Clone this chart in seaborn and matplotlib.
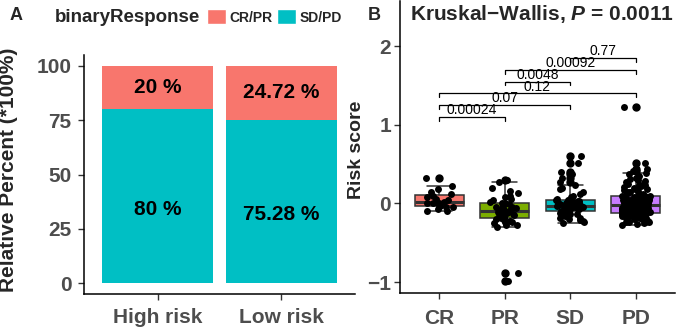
import numpy as np
import pandas as pd
import matplotlib

matplotlib.use("Agg")
import matplotlib.pyplot as plt
from matplotlib.patches import Patch
import seaborn as sns

sns.set_style("ticks")
plt.rcParams["font.family"] = ["Liberation Sans", "DejaVu Sans"]
plt.rcParams["mathtext.fontset"] = "custom"
plt.rcParams["mathtext.rm"] = "Liberation Sans:bold"
plt.rcParams["mathtext.it"] = "Liberation Sans:bold:italic"

# 左图: 高低风险组的应答比例
risk_groups = ["High risk", "Low risk"]
crpr_pct = [20, 24.72]
sdpd_pct = [80, 75.28]
crpr_labels = ["20 %", "24.72 %"]
sdpd_labels = ["80 %", "75.28 %"]

# 右图: 各应答组的风险评分
cr_score = [-0.10, -0.09, -0.07, -0.05, -0.04, -0.03, -0.02, 0.00, 0.01, 0.01,
            0.02, 0.04, 0.06, 0.08, 0.10, 0.12, 0.14, 0.18, 0.22, 0.33]
pr_score = [-0.98, -0.89, -0.30, -0.28, -0.27, -0.25, -0.24, -0.23, -0.22, -0.21,
            -0.20, -0.19, -0.18, -0.17, -0.16, -0.15, -0.14, -0.13, -0.12, -0.11,
            -0.10, -0.10, -0.09, -0.09, -0.08, -0.07, -0.06, -0.06, -0.05, -0.04,
            -0.03, -0.02, -0.01, 0.00, 0.01, 0.02, 0.04, 0.06, 0.08, 0.10,
            0.13, 0.16, 0.20, 0.27, 0.30]
sd_score = [-0.25, -0.24, -0.22, -0.21, -0.20, -0.19, -0.18, -0.16, -0.15, -0.14,
            -0.13, -0.12, -0.11, -0.10, -0.09, -0.09, -0.08, -0.08, -0.07, -0.07,
            -0.06, -0.06, -0.05, -0.05, -0.04, -0.04, -0.04, -0.03, -0.03, -0.03,
            -0.03, -0.02, -0.02, -0.01, -0.01, 0.00, 0.00, 0.01, 0.01, 0.02,
            0.02, 0.03, 0.03, 0.04, 0.04, 0.04, 0.06, 0.08, 0.10, 0.12,
            0.15, 0.18, 0.20, 0.23, 0.27, 0.33, 0.38, 0.40, 0.51, 0.60]
pd_score = [-0.27, -0.26, -0.25, -0.24, -0.24, -0.23, -0.22, -0.22, -0.21, -0.20,
            -0.20, -0.19, -0.19, -0.18, -0.18, -0.17, -0.17, -0.16, -0.16, -0.15,
            -0.15, -0.14, -0.14, -0.14, -0.13, -0.13, -0.13, -0.12, -0.12, -0.12,
            -0.12, -0.11, -0.11, -0.11, -0.10, -0.10, -0.10, -0.09, -0.09, -0.09,
            -0.08, -0.08, -0.08, -0.07, -0.07, -0.07, -0.06, -0.06, -0.06, -0.05,
            -0.05, -0.05, -0.04, -0.04, -0.04, -0.03, -0.03, -0.03, -0.02, -0.02,
            -0.02, -0.01, -0.01, -0.01, 0.00, 0.00, 0.00, 0.01, 0.01, 0.01,
            0.02, 0.02, 0.02, 0.03, 0.03, 0.04, 0.04, 0.04, 0.05, 0.05,
            0.05, 0.06, 0.06, 0.07, 0.07, 0.07, 0.08, 0.08, 0.09, 0.09,
            0.09, 0.10, 0.11, 0.12, 0.13, 0.14, 0.15, 0.16, 0.17, 0.18,
            0.19, 0.20, 0.21, 0.22, 0.23, 0.24, 0.25, 0.26, 0.27, 0.28,
            0.30, 0.31, 0.33, 0.35, 0.37, 0.39, 0.41, 0.44, 0.52, 1.23]
response_groups = ["CR", "PR", "SD", "PD"]
comparisons = [("CR", "PR"), ("CR", "SD"), ("CR", "PD"),
               ("PR", "SD"), ("PR", "PD"), ("SD", "PD")]
p_values = ["0.00024", "0.07", "0.12", "0.0048", "0.00092", "0.77"]
kw_p = "0.0011"

red = "#F8766D"
teal = "#00BFC4"
box_colors = ["#F8766D", "#7CAE00", "#00BFC4", "#C77CFF"]
tick_grey = "#4D4D4D"

df = pd.DataFrame({
    "group": ["CR"] * len(cr_score) + ["PR"] * len(pr_score)
    + ["SD"] * len(sd_score) + ["PD"] * len(pd_score),
    "score": cr_score + pr_score + sd_score + pd_score,
})

fig = plt.figure(figsize=(6.78, 3.28), dpi=100)
axA = fig.add_axes([84 / 678, 1 - 294 / 328, 271 / 678, 239 / 328])
axB = fig.add_axes([400 / 678, 1 - 293.3 / 328, 275 / 678, 292 / 328])

# ---- A: 堆叠柱状图 ----
total = np.add(crpr_pct, sdpd_pct)
sns.barplot(x=risk_groups, y=total, color=red, width=0.9, saturation=1,
            linewidth=0, ax=axA)
sns.barplot(x=risk_groups, y=sdpd_pct, color=teal, width=0.9, saturation=1,
            linewidth=0, ax=axA)
for i in range(len(risk_groups)):
    axA.text(i, sdpd_pct[i] + crpr_pct[i] / 2, crpr_labels[i], ha="center",
             va="center", fontsize=15, fontweight="bold", color="black")
    axA.text(i, sdpd_pct[i] / 2 - 6, sdpd_labels[i], ha="center",
             va="center", fontsize=15, fontweight="bold", color="black")
axA.set_xlim(-0.6, 1.6)
axA.set_ylim(-5, 105)
axA.set_yticks([0, 25, 50, 75, 100])
axA.set_xlabel("")
axA.set_ylabel("Relative Percent (*100%)", fontsize=15, fontweight="bold")
axA.yaxis.set_label_coords(-0.245, 0.52)
axA.tick_params(axis="y", labelsize=15, labelcolor=tick_grey, length=4, width=1,
                color="#333333", pad=5)
axA.tick_params(axis="x", labelsize=15, labelcolor=tick_grey, length=4, width=1,
                color="#333333", pad=6)
for lab in axA.get_xticklabels() + axA.get_yticklabels():
    lab.set_fontweight("bold")
sns.despine(ax=axA)
for s in ["left", "bottom"]:
    axA.spines[s].set_color("black")
    axA.spines[s].set_linewidth(1.1)

fig.text(55 / 678, 1 - 17 / 328, "binaryResponse", ha="left", va="center",
         fontsize=13.5, fontweight="bold")
fig.legend([Patch(facecolor=red), Patch(facecolor=teal)], ["CR/PR", "SD/PD"],
           loc="center left", bbox_to_anchor=(207 / 678, 1 - 17 / 328), ncol=2,
           frameon=False, prop={"size": 10, "weight": "bold"},
           handlelength=1.35, handleheight=1.25, handletextpad=0.25,
           columnspacing=0.35, borderpad=0, borderaxespad=0)

# ---- B: 箱线图 + 抖动点 ----
np.random.seed(7)
sns.boxplot(data=df, x="group", y="score", hue="group", order=response_groups,
            hue_order=response_groups, palette=box_colors, saturation=1,
            width=0.75, linecolor="#333333", linewidth=1.1, legend=False,
            flierprops=dict(marker="o", markerfacecolor="black",
                            markeredgecolor="black", markersize=5),
            medianprops=dict(linewidth=2.2), ax=axB)
sns.stripplot(data=df, x="group", y="score", order=response_groups,
              color="black", size=5, jitter=0.22, linewidth=0, ax=axB)

y0, step, tip = 1.10, 0.15, 0.05
for k, (a, b) in enumerate(comparisons):
    xa, xb = response_groups.index(a), response_groups.index(b)
    y = y0 + k * step
    axB.plot([xa, xa, xb, xb], [y - tip, y, y, y - tip], color="black", lw=0.9)
    axB.text((xa + xb) / 2, y + 0.085, p_values[k], ha="center", va="center",
             fontsize=10, color="black")

axB.set_xlim(-0.6, 3.6)
axB.set_ylim(-1.142, 2.57)
axB.set_yticks([-1, 0, 1, 2])
axB.set_xlabel("")
axB.set_ylabel("Risk score", fontsize=14, fontweight="bold")
axB.yaxis.set_label_coords(-0.128, 0.49)
axB.tick_params(axis="y", labelsize=15, labelcolor=tick_grey, length=4, width=1,
                color="#333333", pad=2.5)
axB.tick_params(axis="x", labelsize=15, labelcolor=tick_grey, length=4, width=1,
                color="#333333", pad=7)
for lab in axB.get_xticklabels() + axB.get_yticklabels():
    lab.set_fontweight("bold")
sns.despine(ax=axB)
for s in ["left", "bottom"]:
    axB.spines[s].set_color("black")
    axB.spines[s].set_linewidth(1.1)

fig.text(410 / 678, 1 - 14 / 328, "Kruskal\u2212Wallis, $\\mathit{P}$ = " + kw_p,
         ha="left", va="center", fontsize=15, fontweight="bold")
fig.text(10 / 678, 1 - 15 / 328, "A", ha="left", va="center", fontsize=13,
         fontweight="bold")
fig.text(368 / 678, 1 - 15 / 328, "B", ha="left", va="center", fontsize=13,
         fontweight="bold")

fig.savefig("out.png", dpi=100)
